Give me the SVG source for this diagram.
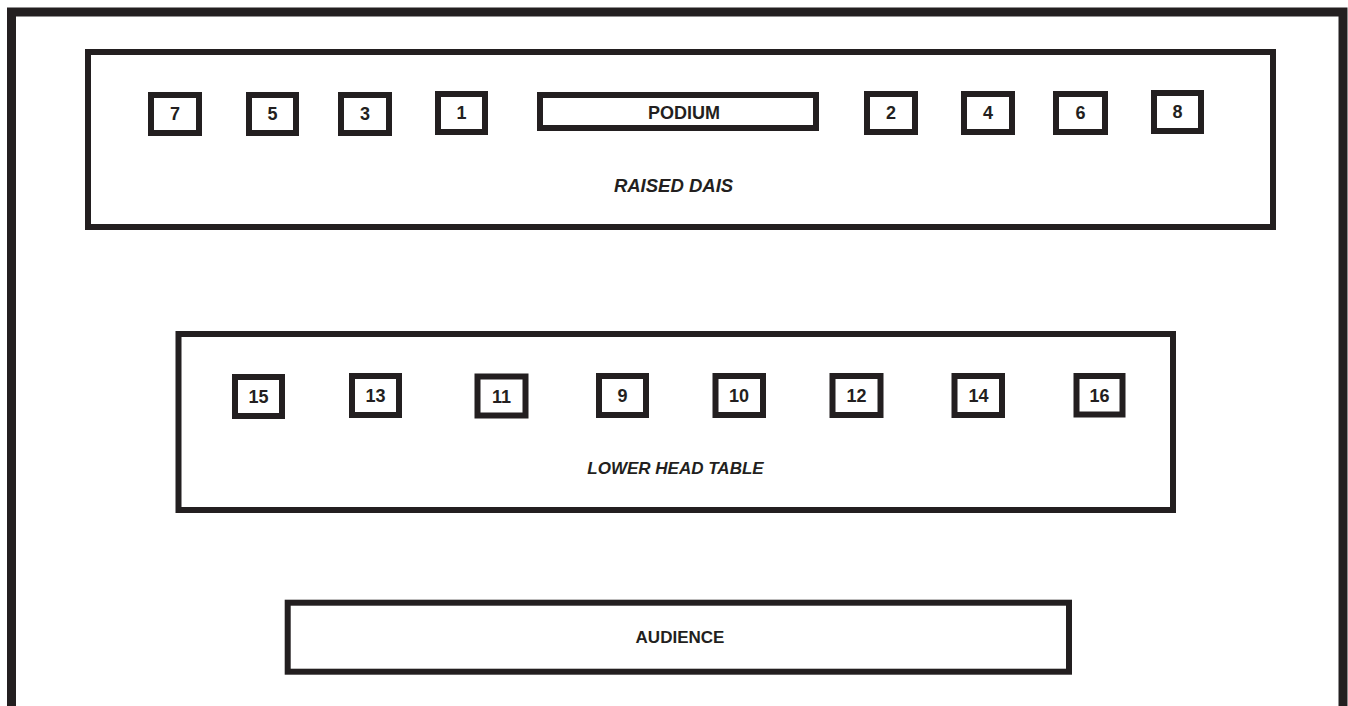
<svg xmlns="http://www.w3.org/2000/svg" width="1348" height="706" viewBox="0 0 1348 706">
<style>
.frame{fill:none;stroke:#231f20;stroke-width:9}
.tbl{fill:#fff;stroke:#231f20;stroke-width:6}
.seat{fill:#fff;stroke:#231f20;stroke-width:6}
.num{font-family:"Liberation Sans",Arial,sans-serif;font-weight:bold;font-size:18px;fill:#231f20;text-anchor:middle}
.lbl{font-family:"Liberation Sans",Arial,sans-serif;font-weight:bold;font-size:17px;fill:#231f20;text-anchor:middle}
.it{font-style:italic}
</style>
<rect width="1348" height="706" fill="#fff"/>
<g id="room"><rect class="frame" x="11.5" y="12" width="1331.5" height="800"/></g>
<g id="dais"><rect class="tbl" x="88" y="52" width="1185" height="175"/><text class="lbl it" x="673.5" y="192" style="font-size:18.5px">RAISED DAIS</text></g>
<g id="podium"><rect class="tbl" x="540" y="95" width="276" height="33"/><text class="num" x="684" y="119">PODIUM</text></g>
<g id="seat7"><rect class="seat" x="151" y="95" width="48" height="38"/><text class="num" x="175" y="120">7</text></g>
<g id="seat5"><rect class="seat" x="249" y="95" width="47" height="38"/><text class="num" x="272.5" y="120">5</text></g>
<g id="seat3"><rect class="seat" x="341" y="95" width="48" height="38"/><text class="num" x="365" y="120">3</text></g>
<g id="seat1"><rect class="seat" x="438" y="94" width="47" height="38"/><text class="num" x="461.5" y="119">1</text></g>
<g id="seat2"><rect class="seat" x="867" y="94" width="48" height="38"/><text class="num" x="891" y="119">2</text></g>
<g id="seat4"><rect class="seat" x="964" y="94" width="48" height="38"/><text class="num" x="988" y="119">4</text></g>
<g id="seat6"><rect class="seat" x="1056" y="94" width="49" height="38"/><text class="num" x="1080.5" y="119">6</text></g>
<g id="seat8"><rect class="seat" x="1154" y="93" width="47" height="38"/><text class="num" x="1177.5" y="118">8</text></g>
<g id="lower"><rect class="tbl" x="178.5" y="334" width="994.5" height="176"/><text class="lbl it" x="675.5" y="474">LOWER HEAD TABLE</text></g>
<g id="seat15"><rect class="seat" x="235" y="377" width="47" height="39"/><text class="num" x="258.5" y="403">15</text></g>
<g id="seat13"><rect class="seat" x="352" y="376" width="47" height="39"/><text class="num" x="375.5" y="402">13</text></g>
<g id="seat11"><rect class="seat" x="477.5" y="376.5" width="48" height="39"/><text class="num" x="501.5" y="403">11</text></g>
<g id="seat9"><rect class="seat" x="599" y="376" width="47" height="39"/><text class="num" x="622.5" y="402">9</text></g>
<g id="seat10"><rect class="seat" x="715.5" y="376" width="47.5" height="39"/><text class="num" x="739" y="402">10</text></g>
<g id="seat12"><rect class="seat" x="832.5" y="376" width="48" height="39"/><text class="num" x="856.5" y="402">12</text></g>
<g id="seat14"><rect class="seat" x="954.5" y="376" width="47.5" height="39"/><text class="num" x="978.5" y="402">14</text></g>
<g id="seat16"><rect class="seat" x="1076.5" y="376" width="46" height="38.5"/><text class="num" x="1099.5" y="402">16</text></g>
<g id="audience"><rect class="tbl" x="287.7" y="602.7" width="781.3" height="69"/><text class="lbl" x="680" y="643">AUDIENCE</text></g>
</svg>
